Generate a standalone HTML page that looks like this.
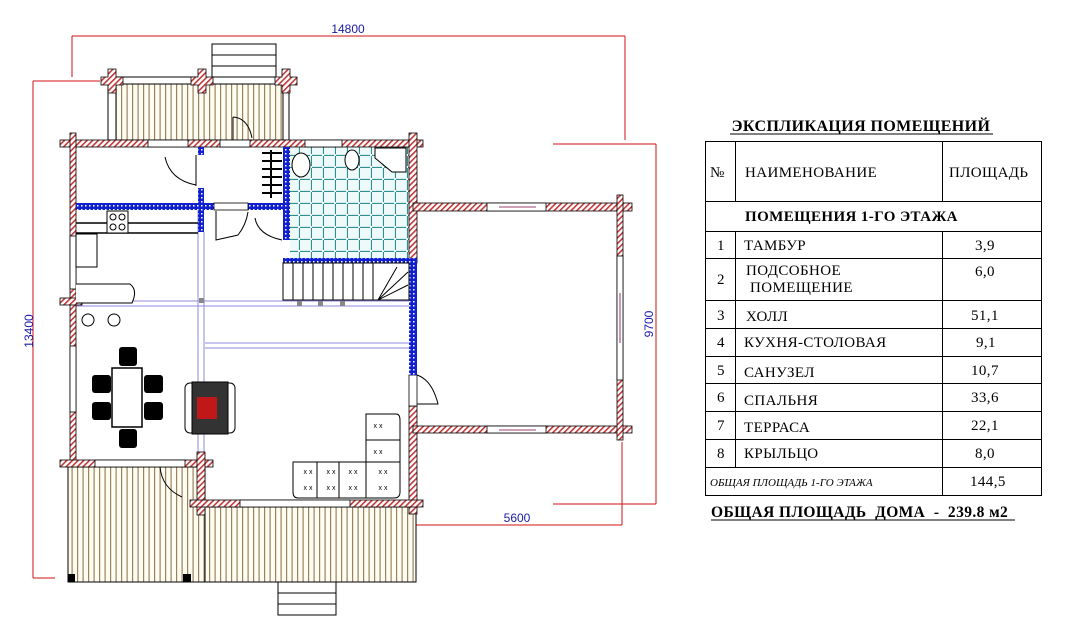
<!DOCTYPE html>
<html><head><meta charset="utf-8"><style>
html,body{margin:0;padding:0;background:#fff;}
svg{display:block;}
.t{font-family:"Liberation Serif",serif;font-size:15px;fill:#000;letter-spacing:0.4px;}
.d{font-family:"Liberation Sans",sans-serif;font-size:12px;fill:#1a1aa8;}
</style></head><body>
<svg width="1083" height="635" viewBox="0 0 1083 635" xmlns="http://www.w3.org/2000/svg">
<defs>
<pattern id="h" width="4" height="4" patternUnits="userSpaceOnUse" patternTransform="rotate(45)">
<rect width="4" height="4" fill="#fff"/><rect width="1.6" height="4" fill="#c0393b"/></pattern>
<pattern id="b" width="4" height="4" patternUnits="userSpaceOnUse">
<rect width="4" height="4" fill="#1020d0"/><rect x="1" y="1" width="1.5" height="1.5" fill="#fff"/></pattern>
<pattern id="dk" width="5.5" height="10" patternUnits="userSpaceOnUse">
<rect width="5.5" height="10" fill="#fffdf2"/><rect x="0" width="1.2" height="10" fill="#9a8260"/></pattern>
<pattern id="tl" width="12" height="12" patternUnits="userSpaceOnUse">
<rect width="12" height="12" fill="#eefafa"/><path d="M0 11.5H10M11.5 0V10" stroke="#2f8f8f" stroke-width="1.2" fill="none"/></pattern>
</defs>

<g stroke="#d01010" stroke-width="1" fill="none">
<path d="M72 36H625M72 36V77M625 36V140"/>
<path d="M33 81H100M33 81V578M33 578H55"/>
<path d="M553 144H656M656 144V504M553 504H656"/>
<path d="M412 525H622M622 442V525M412 515V527"/>
</g>
<text class="d" x="348" y="33" text-anchor="middle">14800</text>
<text class="d" transform="translate(33,331) rotate(-90)" text-anchor="middle">13400</text>
<text class="d" transform="translate(653,324) rotate(-90)" text-anchor="middle">9700</text>
<text class="d" x="517" y="522" text-anchor="middle">5600</text>

<rect x="116" y="84" width="168" height="56" fill="url(#dk)" stroke="#000"/>
<rect x="68" y="467" width="137" height="115" fill="url(#dk)" stroke="#000"/>
<rect x="205" y="507" width="211" height="75" fill="url(#dk)" stroke="#000"/>
<rect x="68" y="574" width="7" height="8" fill="#000"/><rect x="183" y="574" width="8" height="8" fill="#000"/>
<g fill="#fff" stroke="#000"><rect x="212" y="44" width="64" height="33"/><path d="M212 55H276M212 66H276"/>
<rect x="278" y="582" width="58" height="33"/><path d="M278 593H336M278 604H336"/></g>

<g fill="#fff" stroke="#000"><rect x="116" y="77" width="86" height="7"/><rect x="108" y="84" width="8" height="56"/><rect x="283" y="84" width="6" height="56"/></g>
<g fill="url(#h)" stroke="#000" stroke-width="0.8">
<path d="M108 69h8v8h7v8h-7v8h-8v-8h-7v-8h7z"/>
<path d="M198 69h8v8h7v8h-7v8h-8v-8h-7v-8h7z"/>
<path d="M282 69h8v8h7v8h-7v8h-8v-8h-7v-8h7z"/>
</g>
<path d="M233 117 Q248 118 252 138" stroke="#000" fill="none"/><path d="M233 117V140" stroke="#000"/>

<rect x="290" y="147" width="119" height="111" fill="url(#tl)"/>
<g stroke="#9088e0" stroke-width="1" fill="none">
<path d="M75 301H410M75 306H410M205 343H410M205 348H410M198 210V460M204 232V460"/>
</g>

<g fill="url(#h)" stroke="#000" stroke-width="0.8">
<rect x="60" y="140" width="363" height="7"/>
<rect x="70" y="133" width="6" height="332"/>
<rect x="409" y="133" width="8" height="130"/>
<rect x="409" y="406" width="8" height="108"/>
<rect x="413" y="203" width="219" height="8"/>
<rect x="413" y="426" width="219" height="7"/>
<rect x="617" y="195" width="6" height="245"/>
<rect x="60" y="460" width="153" height="7"/>
<rect x="197" y="452" width="8" height="63"/>
<rect x="190" y="500" width="233" height="7"/>
<rect x="60" y="298" width="22" height="7"/>
</g>
<g fill="#fff" stroke="#000" stroke-width="0.8">
<rect x="148" y="140" width="40" height="7"/><rect x="305" y="140" width="37" height="7"/><rect x="220" y="140" width="30" height="7"/>
<rect x="487" y="203" width="59" height="8"/><rect x="487" y="426" width="59" height="7"/>
<rect x="617" y="256" width="6" height="124"/>
<rect x="70" y="236" width="6" height="53"/><rect x="70" y="346" width="6" height="66"/>
<rect x="95" y="460" width="90" height="7"/><rect x="240" y="500" width="110" height="7"/>
<rect x="409" y="375" width="8" height="31"/>
</g>
<path d="M499 207H536M499 430H536M620 293V343" stroke="#800040" stroke-width="0.8"/>

<g fill="url(#b)">
<rect x="76" y="203" width="209" height="7"/>
<rect x="198" y="147" width="6" height="8"/><rect x="198" y="188" width="6" height="44"/>
<rect x="283" y="147" width="7" height="93"/>
<rect x="283" y="258" width="134" height="5"/>
<rect x="409" y="263" width="8" height="112"/>
<rect x="248" y="203" width="37" height="7"/>
</g>
<rect x="214" y="203" width="34" height="7" fill="#fff" stroke="#000" stroke-width="0.8"/>

<g stroke="#000" fill="none">
<path d="M165 157 Q170 180 196 185M196 155V186"/>
<path d="M216 211V240L238 235Q246 225 248 212"/>
<path d="M255 218Q258 235 282 240"/>
<path d="M417 375Q432 380 438 404H417"/>
<path d="M160 467Q162 488 182 497"/>
</g>

<g stroke="#000" fill="#fff"><rect x="283" y="263" width="126" height="37"/>
<path d="M293 263V300M303 263V300M313 263V300M323 263V300M333 263V300M343 263V300M353 263V300M363 263V300M373 263V300"/>
<path d="M378 300L397 267M378 300L408 272M378 300L408 285"/></g>
<g fill="#000"><rect x="262" y="152" width="20" height="2"/><rect x="262" y="160" width="20" height="2"/><rect x="262" y="168" width="20" height="2"/><rect x="262" y="176" width="20" height="2"/><rect x="262" y="184" width="20" height="2"/><rect x="262" y="192" width="20" height="2"/><rect x="270" y="150" width="2" height="48"/></g>
<g fill="#888"><rect x="297" y="301" width="5" height="5"/><rect x="318" y="301" width="5" height="5"/><rect x="340" y="301" width="5" height="5"/><rect x="199" y="298" width="5" height="5"/></g>

<g stroke="#000" fill="#fff">
<ellipse cx="301" cy="165" rx="9" ry="12"/><ellipse cx="352" cy="160" rx="7" ry="10"/>
<path d="M375 148H406V172H392L375 158Z"/>
</g>

<g stroke="#000" fill="#fff">
<path d="M76 223H198M76 233H198" stroke-width="1.5"/>
<rect x="107" y="211" width="21" height="22"/>
<circle cx="113" cy="217" r="3"/><circle cx="122" cy="217" r="3"/><circle cx="113" cy="227" r="3"/><circle cx="122" cy="227" r="3"/>
<rect x="76" y="234" width="21" height="33"/>
<path d="M76 284H130Q138 290 132 303H76"/>
<circle cx="88" cy="320" r="6"/><circle cx="114" cy="320" r="6"/>
</g>
<g fill="#000"><rect x="119" y="347" width="18" height="19" rx="3"/><rect x="92" y="375" width="19" height="18" rx="3"/><rect x="144" y="375" width="19" height="18" rx="3"/><rect x="92" y="402" width="19" height="18" rx="3"/><rect x="144" y="402" width="19" height="18" rx="3"/><rect x="119" y="429" width="18" height="19" rx="3"/></g>
<rect x="112" y="368" width="30" height="59" fill="#fff" stroke="#000" stroke-width="1.5"/>
<rect x="185" y="383" width="50" height="50" rx="5" fill="#fff" stroke="#000"/>
<rect x="192" y="382" width="36" height="52" fill="#333" stroke="#000"/>
<rect x="197" y="397" width="20" height="22" fill="#c01818"/>
<g stroke="#000" fill="#fff">
<path d="M293 462H366V414H396Q400 414 400 420V492Q400 498 394 498H298Q293 498 293 492Z"/>
<path d="M317 462V498M339 462V498M366 462V498M366 440H400M366 462H400"/>
</g>
<g font-family="Liberation Sans" font-size="7" fill="#000" text-anchor="middle">
<text x="378" y="428">x x</text><text x="378" y="454">x x</text><text x="308" y="474">x x</text><text x="308" y="490">x x</text><text x="331" y="474">x x</text><text x="331" y="490">x x</text><text x="353" y="474">x x</text><text x="353" y="490">x x</text><text x="383" y="474">x x</text><text x="383" y="490">x x</text></g>

<text class="t" x="861" y="131" text-anchor="middle" style="font-weight:bold;font-size:16px">ЭКСПЛИКАЦИЯ ПОМЕЩЕНИЙ</text>
<path d="M730 134H993" stroke="#000"/>
<g stroke="#000" fill="none">
<rect x="705.5" y="141.5" width="336" height="354"/>
<path d="M735.5 141V201M942.5 141V201M735.5 231V468M942.5 231V496"/>
<path d="M705 201.5H1042M705 231.5H1042M705 258.5H1042M705 300.5H1042M705 328.5H1042M705 356.5H1042M705 383.5H1042M705 411.5H1042M705 439.5H1042M705 467.5H1042"/>
</g>
<g class="t">
<text x="710" y="177">№</text><text x="745" y="177">НАИМЕНОВАНИЕ</text><text x="949" y="177">ПЛОЩАДЬ</text>
<text x="745" y="221" style="font-weight:bold">ПОМЕЩЕНИЯ 1-ГО ЭТАЖА</text>
<text x="717" y="250">1</text><text x="744" y="250">ТАМБУР</text><text x="975" y="250">3,9</text>
<text x="717" y="284">2</text><text x="746" y="275">ПОДСОБНОЕ</text><text x="750" y="292">ПОМЕЩЕНИЕ</text><text x="975" y="276">6,0</text>
<text x="717" y="320">3</text><text x="746" y="321">ХОЛЛ</text><text x="971" y="320">51,1</text>
<text x="717" y="347">4</text><text x="744" y="347">КУХНЯ-СТОЛОВАЯ</text><text x="976" y="347">9,1</text>
<text x="717" y="375">5</text><text x="744" y="377">САНУЗЕЛ</text><text x="971" y="375">10,7</text>
<text x="717" y="402">6</text><text x="744" y="405">СПАЛЬНЯ</text><text x="971" y="402">33,6</text>
<text x="717" y="430">7</text><text x="744" y="432">ТЕРРАСА</text><text x="971" y="430">22,1</text>
<text x="717" y="458">8</text><text x="744" y="458">КРЫЛЬЦО</text><text x="975" y="458">8,0</text>
<text x="710" y="486" style="font-style:italic;font-size:11px;letter-spacing:0">ОБЩАЯ ПЛОЩАДЬ 1-ГО ЭТАЖА</text><text x="970" y="486">144,5</text>
<text x="711" y="517" style="font-weight:bold;font-size:15.5px;white-space:pre" xml:space="preserve">ОБЩАЯ ПЛОЩАДЬ  ДОМА  -  239.8 м2</text>
</g>
<path d="M711 520H1015" stroke="#000"/>
</svg>
</body></html>
